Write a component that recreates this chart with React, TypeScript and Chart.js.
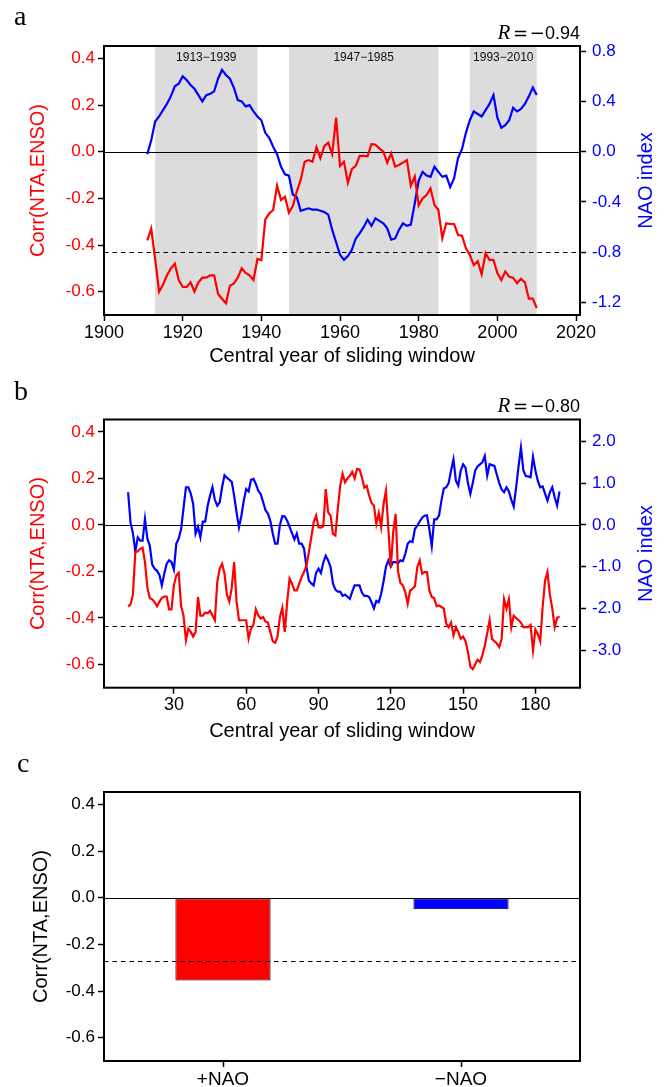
import React, { useEffect, useRef } from 'react';
import { Chart, registerables } from 'chart.js';

Chart.register(...registerables);

const SANS = '"Liberation Sans", Arial, Helvetica, sans-serif';
const SERIF = '"Liberation Serif", "Times New Roman", serif';
Chart.defaults.font.family = SANS;

// ---------- Panel a ----------
const yearStartA = 1911;
const corrA = [
  -0.38, -0.33, -0.46, -0.60, -0.57, -0.53, -0.50, -0.48, -0.55, -0.58,
  -0.58, -0.56, -0.60, -0.56, -0.54, -0.54, -0.53, -0.53, -0.61, -0.63,
  -0.65, -0.575, -0.565, -0.54, -0.50, -0.52, -0.53, -0.55, -0.46, -0.465,
  -0.29, -0.265, -0.25, -0.146, -0.207, -0.193, -0.261, -0.233, -0.171, -0.121,
  -0.043, -0.036, -0.043, 0.019, -0.028, 0.024, 0.039, -0.01, 0.146, -0.061,
  -0.043, -0.133, -0.075, -0.061, -0.018, -0.018, -0.02, 0.033, 0.03, 0.014,
  0.0, -0.047, -0.007, -0.064, -0.057, -0.047, -0.036, -0.146, -0.107, -0.231,
  -0.2, -0.186, -0.157, -0.228, -0.25, -0.371, -0.307, -0.31, -0.31, -0.357,
  -0.36, -0.414, -0.443, -0.486, -0.47, -0.525, -0.435, -0.464, -0.464, -0.52,
  -0.55, -0.514, -0.536, -0.54, -0.564, -0.545, -0.56, -0.63, -0.63, -0.67,
];
const naoA = [
  -0.02, 0.09, 0.24, 0.28, 0.33, 0.38, 0.44, 0.52, 0.54, 0.60,
  0.57, 0.53, 0.50, 0.45, 0.40, 0.45, 0.46, 0.48, 0.58, 0.65,
  0.61, 0.58, 0.51, 0.41, 0.40, 0.36, 0.37, 0.32, 0.28, 0.25,
  0.15, 0.11, 0.04, -0.02, -0.12, -0.18, -0.19, -0.34, -0.36, -0.47,
  -0.46, -0.45, -0.46, -0.46, -0.47, -0.48, -0.50, -0.62, -0.72, -0.82,
  -0.86, -0.83, -0.78, -0.69, -0.65, -0.60, -0.54, -0.59, -0.53, -0.55,
  -0.57, -0.61, -0.70, -0.69, -0.62, -0.57, -0.59, -0.58, -0.41, -0.23,
  -0.16, -0.19, -0.20, -0.12, -0.16, -0.20, -0.19, -0.28, -0.21, -0.05,
  0.02, 0.15, 0.25, 0.32, 0.30, 0.28, 0.33, 0.38, 0.45, 0.27,
  0.19, 0.21, 0.25, 0.35, 0.32, 0.34, 0.38, 0.44, 0.51, 0.45,
];
const periodStartsA = [1913, 1947, 1993];
const periodEndsA = [1939, 1985, 2010];
const periodLabelsA = ['1913\u22121939', '1947\u22121985', '1993\u22122010'];
const xTicksA = [1900, 1920, 1940, 1960, 1980, 2000, 2020];
const rightTicksA = [-1.2, -0.8, -0.4, 0, 0.4, 0.8];
const rValueA = '0.94';
const sigA = -0.43;

// ---------- Panel b ----------
const xStartB = 11;
const corrB = [
  -0.35, -0.343, -0.30, -0.117, -0.114, -0.103, -0.098, -0.16, -0.27, -0.315,
  -0.32, -0.332, -0.35, -0.33, -0.315, -0.308, -0.308, -0.363, -0.363, -0.26,
  -0.217, -0.206, -0.35, -0.39, -0.496, -0.446, -0.46, -0.48, -0.46, -0.31,
  -0.39, -0.39, -0.377, -0.38, -0.37, -0.39, -0.41, -0.246, -0.189, -0.167,
  -0.21, -0.30, -0.33, -0.27, -0.16, -0.33, -0.41, -0.41, -0.41, -0.41,
  -0.489, -0.446, -0.43, -0.363, -0.389, -0.403, -0.396, -0.415, -0.42, -0.46,
  -0.50, -0.507, -0.48, -0.396, -0.357, -0.46, -0.332, -0.231, -0.253, -0.282,
  -0.282, -0.253, -0.224, -0.203, -0.174, -0.117, -0.053, 0.011, 0.04, -0.01,
  -0.012, -0.006, 0.154, 0.054, 0.04, -0.039, -0.046, 0.069, 0.168, 0.219,
  0.183, 0.20, 0.211, 0.228, 0.20, 0.24, 0.238, 0.205, 0.16, 0.168,
  0.126, 0.094, 0.083, 0.004, 0.05, -0.01, 0.09, 0.147, -0.02, -0.182,
  -0.032, 0.047, -0.20, -0.25, -0.26, -0.289, -0.339, -0.282, -0.275, -0.264,
  -0.182, -0.153, -0.21, -0.203, -0.203, -0.282, -0.31, -0.315, -0.349, -0.346,
  -0.353, -0.36, -0.424, -0.44, -0.42, -0.475, -0.44, -0.46, -0.49, -0.48,
  -0.50, -0.546, -0.61, -0.62, -0.60, -0.58, -0.59, -0.56, -0.52, -0.467,
  -0.41, -0.49, -0.50, -0.51, -0.525, -0.49, -0.32, -0.36, -0.32, -0.44,
  -0.39, -0.40, -0.41, -0.42, -0.44, -0.44, -0.44, -0.43, -0.54, -0.45,
  -0.47, -0.50, -0.353, -0.24, -0.203, -0.30, -0.36, -0.44, -0.40, -0.393,
];
const naoB = [
  0.78, 0.06, -0.2, -0.64, -0.3, -0.38, -0.38, 0.14, -0.33, -0.5,
  -0.95, -1.05, -1.1, -1.2, -1.45, -1.17, -0.93, -0.85, -0.89, -1.07,
  -0.45, -0.33, -0.1, 0.4, 0.9, 0.9, 0.75, 0.5, -0.21, -0.05,
  -0.3, 0.08, 0.08, 0.45, 0.7, 0.9, 0.6, 0.46, 0.54, 0.9,
  1.19, 1.13, 1.08, 1.03, 0.7, 0.3, -0.06, 0.22, 0.58, 0.86,
  0.8, 1.08, 1.1, 0.98, 0.82, 0.74, 0.55, 0.35, 0.27, 0.1,
  -0.2, -0.45, -0.45, 0.0, 0.21, 0.2, 0.1, -0.05, -0.2, -0.35,
  -0.21, -0.45, -0.45, -0.57, -1.0, -1.33, -1.4, -1.45, -1.15, -1.05,
  -1.15, -0.9, -0.74, -0.85, -1.01, -1.4, -1.55, -1.6, -1.6, -1.7,
  -1.67, -1.72, -1.77, -1.6, -1.45, -1.45, -1.45, -1.62, -1.7, -1.7,
  -1.73, -1.85, -2.0, -1.82, -1.85, -1.65, -1.35, -1.0, -0.85, -1.0,
  -0.89, -0.89, -0.92, -0.85, -0.87, -0.7, -0.45, -0.39, -0.41, -0.1,
  -0.02, 0.08, 0.17, 0.22, 0.23, -0.1, -0.51, 0.13, 0.13, 0.22,
  0.58, 0.87, 0.9, 1.0, 1.3, 1.57, 1.06, 0.94, 1.3, 1.45,
  1.37, 1.0, 0.74, 1.0, 1.3, 1.4, 1.45, 1.5, 1.65, 1.18,
  1.45, 1.43, 1.41, 1.2, 1.0, 0.85, 0.78, 0.9, 0.8, 0.6,
  0.44, 0.9, 1.4, 1.85, 1.3, 1.17, 1.16, 1.14, 1.63, 1.3,
  1.05, 0.9, 0.92, 0.75, 0.58, 0.78, 0.9, 0.66, 0.46, 0.8,
];
const xTicksB = [30, 60, 90, 120, 150, 180];
const rightTicksB = [-3, -2, -1, 0, 1, 2];
const rValueB = '0.80';
const sigB = -0.433;

// ---------- Panel c ----------
const barCategories = ['+NAO', '\u2212NAO'];
const barValues = [-0.355, -0.05];
const barColors = ['#ff0000', '#0000ff'];
const sigC = -0.27;

// ---------- shared ----------
const leftTicks = [-0.6, -0.4, -0.2, 0, 0.2, 0.4];
const LEFT_MIN = -0.7;
const LEFT_MAX = 0.453;
const RIGHT_FACTOR_A = 1.855;
const RIGHT_FACTOR_B = 5.568;
const yTitle = 'Corr(NTA,ENSO)';
const xTitle = 'Central year of sliding window';
const rightTitle = 'NAO index';

const RED = '#ff0000';
const BLUE = '#0000ff';

const fmt1 = (v: number) => (Math.abs(v) < 1e-9 ? '0.0' : Number(v).toFixed(1));
const snap = (v: number) => Math.round(v) + 0.5;

const tickGrid = {
  display: true,
  drawOnChartArea: false,
  drawTicks: true,
  tickLength: 6,
  tickColor: '#000',
  tickWidth: 1.5,
};

type OverlayCfg = {
  letter: string;
  letterX: number;
  letterY: number;
  r?: string;
  showRightTitle?: boolean;
  sig: number;
  sigAfter?: boolean;
  periods?: boolean;
};

function makeOverlay(cfg: OverlayCfg) {
  const drawSig = (chart: any) => {
    const { ctx, chartArea: ca, scales } = chart;
    const yy = snap(scales.y.getPixelForValue(cfg.sig));
    ctx.save();
    ctx.strokeStyle = '#000';
    ctx.lineWidth = 1;
    ctx.setLineDash([4.5, 4]);
    ctx.beginPath();
    ctx.moveTo(ca.left, yy);
    ctx.lineTo(ca.right, yy);
    ctx.stroke();
    ctx.restore();
  };
  return {
    id: 'overlay',
    beforeDatasetsDraw(chart: any) {
      const { ctx, chartArea: ca, scales } = chart;
      ctx.save();
      if (cfg.periods) {
        periodStartsA.forEach((s, i) => {
          const x0 = scales.x.getPixelForValue(s);
          const x1 = scales.x.getPixelForValue(periodEndsA[i]);
          ctx.fillStyle = '#dcdcdc';
          ctx.fillRect(x0, ca.top, x1 - x0, ca.bottom - ca.top);
          ctx.fillStyle = '#111';
          ctx.font = `12px ${SANS}`;
          ctx.textAlign = 'center';
          ctx.textBaseline = 'middle';
          ctx.fillText(periodLabelsA[i], (x0 + x1) / 2, ca.top + 12);
        });
      }
      const y0 = snap(scales.y.getPixelForValue(0));
      ctx.strokeStyle = '#000';
      ctx.lineWidth = 1;
      ctx.beginPath();
      ctx.moveTo(ca.left, y0);
      ctx.lineTo(ca.right, y0);
      ctx.stroke();
      ctx.restore();
      if (!cfg.sigAfter) drawSig(chart);
    },
    afterDatasetsDraw(chart: any) {
      const { ctx, chartArea: ca } = chart;
      if (cfg.sigAfter) drawSig(chart);
      ctx.save();
      ctx.strokeStyle = '#000';
      ctx.lineWidth = 2;
      ctx.strokeRect(ca.left, ca.top, ca.right - ca.left, ca.bottom - ca.top);
      ctx.restore();
    },
    afterDraw(chart: any) {
      const { ctx, chartArea: ca } = chart;
      ctx.save();
      ctx.fillStyle = '#000';
      ctx.font = `28px ${SERIF}`;
      ctx.textAlign = 'left';
      ctx.textBaseline = 'alphabetic';
      ctx.fillText(cfg.letter, cfg.letterX, cfg.letterY);
      if (cfg.r) {
        const base = ca.top - 7.5;
        const right = ca.right;
        ctx.textAlign = 'right';
        ctx.font = `18px ${SANS}`;
        ctx.fillText(cfg.r, right, base);
        ctx.textAlign = 'center';
        ctx.font = `18px "DejaVu Sans", ${SANS}`;
        ctx.fillText('\u2212', right - 42.7, base);
        ctx.fillText('=', right - 59.5, base);
        ctx.font = `italic 21px ${SERIF}`;
        ctx.fillText('R', right - 76, base);
      }
      if (cfg.showRightTitle) {
        ctx.translate(646, (ca.top + ca.bottom) / 2);
        ctx.rotate(-Math.PI / 2);
        ctx.textAlign = 'center';
        ctx.textBaseline = 'middle';
        ctx.fillStyle = BLUE;
        ctx.font = `20px ${SANS}`;
        ctx.fillText(rightTitle, 0, 0);
      }
      ctx.restore();
    },
  };
}

function leftAxis(color: string, titlePad: number) {
  return {
    position: 'left',
    min: LEFT_MIN,
    max: LEFT_MAX,
    afterBuildTicks: (s: any) => {
      s.ticks = leftTicks.map((v) => ({ value: v }));
    },
    afterFit: (s: any) => {
      s.width = 104;
    },
    grid: tickGrid,
    border: { display: false },
    ticks: {
      color,
      padding: 3,
      font: { size: 17, family: SANS },
      callback: (v: any) => fmt1(v),
    },
    title: {
      display: true,
      text: yTitle,
      color,
      font: { size: 20, family: SANS },
      padding: { top: titlePad, bottom: 0 },
    },
  };
}

function rightAxis(factor: number, ticks: number[]) {
  return {
    position: 'right',
    min: LEFT_MIN * factor,
    max: LEFT_MAX * factor,
    afterBuildTicks: (s: any) => {
      s.ticks = ticks.map((v) => ({ value: v }));
    },
    afterFit: (s: any) => {
      s.width = 88;
    },
    grid: tickGrid,
    border: { display: false },
    ticks: {
      color: BLUE,
      padding: 6,
      font: { size: 17, family: SANS },
      callback: (v: any) => fmt1(v),
    },
  };
}

function xLinear(min: number, max: number, ticks: number[], height: number, titleBottom: number) {
  return {
    type: 'linear',
    min,
    max,
    afterBuildTicks: (s: any) => {
      s.ticks = ticks.map((v) => ({ value: v }));
    },
    afterFit: (s: any) => {
      s.height = height;
    },
    grid: tickGrid,
    border: { display: false },
    ticks: {
      color: '#000',
      padding: 1,
      maxRotation: 0,
      autoSkip: false,
      font: { size: 18, family: SANS },
      callback: (v: any) => String(v),
    },
    title: {
      display: true,
      text: xTitle,
      color: '#000',
      font: { size: 20, family: SANS },
      padding: { top: 0, bottom: titleBottom },
    },
  };
}

const basePlugins = {
  legend: { display: false },
  tooltip: { enabled: false },
};

function lineConfig(
  corr: number[],
  nao: number[],
  start: number,
  xMin: number,
  xMax: number,
  xTicks: number[],
  xHeight: number,
  titleBottom: number,
  topPad: number,
  factor: number,
  rTicks: number[],
  overlay: any,
) {
  return {
    type: 'line',
    data: {
      datasets: [
        {
          data: corr.map((v, i) => ({ x: start + i, y: v })),
          borderColor: RED,
          borderWidth: 2.2,
          pointRadius: 0,
          tension: 0,
          yAxisID: 'y',
        },
        {
          data: nao.map((v, i) => ({ x: start + i, y: v })),
          borderColor: BLUE,
          borderWidth: 2.2,
          pointRadius: 0,
          tension: 0,
          yAxisID: 'y1',
        },
      ],
    },
    options: {
      animation: false,
      responsive: false,
      devicePixelRatio: 1,
      layout: { padding: { top: topPad, left: 0, right: 0, bottom: 0 } },
      scales: {
        x: xLinear(xMin, xMax, xTicks, xHeight, titleBottom),
        y: leftAxis(RED, 26),
        y1: rightAxis(factor, rTicks),
      },
      plugins: basePlugins,
    },
    plugins: [overlay],
  };
}

function useChart(ref: any, makeConfig: () => any) {
  useEffect(() => {
    if (!ref.current) return;
    const chart = new Chart(ref.current, makeConfig());
    return () => chart.destroy();
  }, []);
}

export default function App() {
  const refA = useRef<HTMLCanvasElement>(null);
  const refB = useRef<HTMLCanvasElement>(null);
  const refC = useRef<HTMLCanvasElement>(null);

  useChart(refA, () =>
    lineConfig(
      corrA, naoA, yearStartA, 1900, 2021, xTicksA, 55, 2, 46, RIGHT_FACTOR_A, rightTicksA,
      makeOverlay({ letter: 'a', letterX: 14, letterY: 25, r: rValueA, showRightTitle: true, sig: sigA, periods: true }),
    ),
  );
  useChart(refB, () =>
    lineConfig(
      corrB, naoB, xStartB, 1, 198.5, xTicksB, 62.3, 7, 49.5, RIGHT_FACTOR_B, rightTicksB,
      makeOverlay({ letter: 'b', letterX: 14, letterY: 30, r: rValueB, showRightTitle: true, sig: sigB }),
    ),
  );
  useChart(refC, () => ({
    type: 'bar',
    data: {
      labels: barCategories,
      datasets: [
        {
          data: barValues,
          backgroundColor: barColors,
          borderColor: '#000',
          borderWidth: 1,
          borderSkipped: false,
          barPercentage: 0.4,
          categoryPercentage: 1,
        },
      ],
    },
    options: {
      animation: false,
      responsive: false,
      devicePixelRatio: 1,
      layout: { padding: { top: 42, left: 0, right: 88, bottom: 0 } },
      scales: {
        x: {
          type: 'category',
          offset: true,
          afterFit: (s: any) => {
            s.height = 26;
          },
          grid: { ...tickGrid, offset: false },
          border: { display: false },
          ticks: {
            color: '#000',
            padding: 1,
            maxRotation: 0,
            autoSkip: false,
            font: { size: 19, family: SANS },
          },
        },
        y: leftAxis('#000', 29),
      },
      plugins: basePlugins,
    },
    plugins: [makeOverlay({ letter: 'c', letterX: 17, letterY: 22, sig: sigC, sigAfter: true })],
  }));

  const abs = (top: number): React.CSSProperties => ({ position: 'absolute', left: 0, top, display: 'block' });

  return (
    <div style={{ position: 'absolute', left: 0, top: 0, width: 668, height: 1087, background: '#fff' }}>
      <canvas ref={refA} width={668} height={370} style={abs(0)} />
      <canvas ref={refB} width={668} height={380} style={abs(370)} />
      <canvas ref={refC} width={668} height={337} style={abs(750)} />
    </div>
  );
}
